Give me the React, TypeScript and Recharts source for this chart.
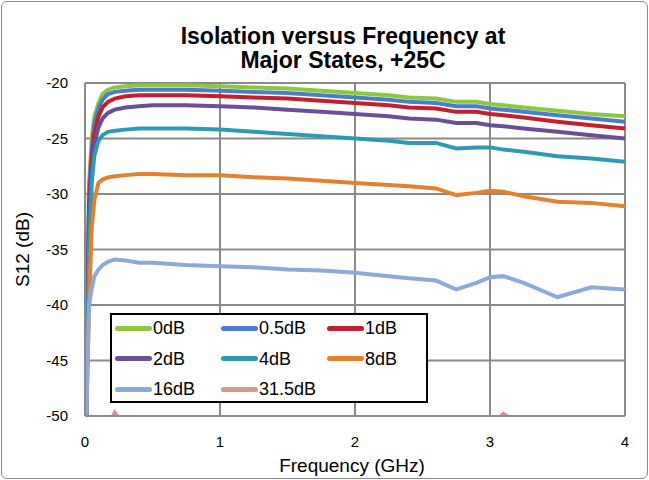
import { CartesianGrid, Line, LineChart, XAxis, YAxis } from 'recharts'

const FONT = '"Liberation Sans", Arial, sans-serif'
const GRID = '#8a8a8a'

// frequency points (GHz)
const freqGHz = [
  0.01, 0.03, 0.05, 0.07, 0.1, 0.13, 0.17, 0.22, 0.3, 0.4, 0.5, 0.75, 1.0, 1.25,
  1.5, 1.75, 2.0, 2.25, 2.4, 2.6, 2.75, 2.9, 3.0, 3.1, 3.25, 3.5, 3.75, 4.0,
]

// S12 (dB) per attenuation state
const s0dB = [
  -50, -29, -25, -23, -21.8, -21, -20.6, -20.4, -20.3, -20.2, -20.2, -20.2, -20.3, -20.4,
  -20.5, -20.7, -20.9, -21.1, -21.3, -21.4, -21.7, -21.7, -21.9, -22.0, -22.2, -22.5, -22.8, -23.0,
]
const s05dB = [
  -50, -30, -26, -23.6, -22.3, -21.5, -21.0, -20.8, -20.7, -20.6, -20.6, -20.6, -20.7, -20.8,
  -20.9, -21.1, -21.3, -21.5, -21.7, -21.8, -22.1, -22.1, -22.3, -22.4, -22.6, -22.9, -23.2, -23.5,
]
const s1dB = [
  -50, -31, -27, -24.5, -23, -22.2, -21.7, -21.4, -21.2, -21.1, -21.1, -21.1, -21.2, -21.3,
  -21.4, -21.6, -21.8, -22.0, -22.2, -22.3, -22.6, -22.6, -22.8, -22.9, -23.1, -23.5, -23.8, -24.1,
]
const s2dB = [
  -50, -32, -28, -25.5, -24, -23.2, -22.7, -22.4, -22.2, -22.1, -22.0, -22.0, -22.1, -22.2,
  -22.4, -22.6, -22.8, -23.0, -23.2, -23.3, -23.6, -23.6, -23.8, -23.9, -24.1, -24.4, -24.7, -25.0,
]
const s4dB = [
  -50, -35, -29, -26.5, -25.2, -24.7, -24.4, -24.3, -24.2, -24.1, -24.1, -24.1, -24.2, -24.4,
  -24.6, -24.8, -25.0, -25.2, -25.4, -25.4, -25.9, -25.8, -25.8, -26.0, -26.2, -26.6, -26.8, -27.1,
]
const s8dB = [
  -50, -40, -33, -30.5, -29.0, -28.7, -28.5, -28.4, -28.3, -28.2, -28.2, -28.3, -28.3, -28.5,
  -28.6, -28.8, -29.0, -29.2, -29.3, -29.5, -30.1, -29.9, -29.7, -29.8, -30.2, -30.7, -30.8, -31.1,
]
const s16dB = [
  -50, -40, -38.5, -37.4, -36.8, -36.4, -36.1, -35.9, -36.0, -36.2, -36.2, -36.4, -36.5, -36.6,
  -36.8, -36.9, -37.1, -37.4, -37.6, -37.8, -38.6, -38.0, -37.5, -37.4, -38.0, -39.3, -38.4, -38.6,
]
const s315dB = [
  -51, -51, -51, -51, -51, -51, -51, -49.7, -51, -51, -51, -51, -51, -51,
  -51, -51, -51, -51, -51, -51, -51, -51, -51, -49.8, -51, -51, -51, -51,
]

const xTicks = [0, 1, 2, 3, 4]
const yTicks = [-50, -45, -40, -35, -30, -25, -20]

const series = [
  { name: '0dB', color: '#8dc63f', values: s0dB },
  { name: '0.5dB', color: '#4a7ec8', values: s05dB },
  { name: '1dB', color: '#c4202b', values: s1dB },
  { name: '2dB', color: '#6b4f96', values: s2dB },
  { name: '4dB', color: '#2f9bb3', values: s4dB },
  { name: '8dB', color: '#e3812f', values: s8dB },
  { name: '16dB', color: '#8ea9d6', values: s16dB },
  { name: '31.5dB', color: '#d99594', values: s315dB },
]

const data = freqGHz.map((f, i) => {
  const row: Record<string, number> = { f }
  series.forEach((s) => (row[s.name] = s.values[i]))
  return row
})

function XTitle(props: any) {
  const vb = props.viewBox
  return (
    <text x={vb.x + vb.width / 2 - 3} y={472} textAnchor="middle" fontSize={19} fontFamily={FONT} fill="#000">
      Frequency (GHz)
    </text>
  )
}

function YTitle(props: any) {
  const vb = props.viewBox
  const cx = 22
  const cy = vb.y + vb.height / 2
  return (
    <text x={cx} y={cy} transform={`rotate(-90 ${cx} ${cy})`} textAnchor="middle" dominantBaseline="central" fontSize={19} fontFamily={FONT} fill="#000">
      S12 (dB)
    </text>
  )
}

function LegendBox() {
  return (
    <div
      style={{
        position: 'absolute', left: 110, top: 313, width: 318, height: 90,
        border: '2px solid #000', boxSizing: 'border-box', background: '#fff',
        fontFamily: FONT, fontSize: 18,
      }}
    >
      {series.map((s, i) => (
        <div
          key={s.name}
          style={{
            position: 'absolute', left: 3 + (i % 3) * 106, top: 3 + Math.floor(i / 3) * 30.5,
            height: 20, display: 'flex', alignItems: 'center',
          }}
        >
          <span style={{ width: 37, height: 5, borderRadius: 3, background: s.color, display: 'inline-block' }} />
          <span style={{ marginLeft: 1, lineHeight: '20px' }}>{s.name}</span>
        </div>
      ))}
    </div>
  )
}

export default function App() {
  return (
    <div style={{ position: 'absolute', left: 0, top: 0, width: 649, height: 480, background: '#fff' }}>
      <div
        style={{
          position: 'absolute', left: 0, top: 24, width: 686, textAlign: 'center',
          fontFamily: FONT, fontWeight: 'bold', fontSize: 23, lineHeight: '24px', color: '#000',
        }}
      >
        Isolation versus Frequency at
        <br />
        Major States, +25C
      </div>
      <LineChart width={649} height={480} data={data} margin={{ top: 83, right: 24, bottom: 34, left: 25 }}>
        <CartesianGrid stroke={GRID} strokeWidth={2} />
        <XAxis
          dataKey="f"
          type="number"
          domain={[0, 4]}
          ticks={xTicks}
          height={30}
          tickSize={0}
          tickMargin={20}
          axisLine={{ stroke: GRID, strokeWidth: 2 }}
          tick={{ fontSize: 15, fill: '#000', fontFamily: FONT }}
          label={<XTitle />}
        />
        <YAxis
          type="number"
          domain={[-50, -20]}
          ticks={yTicks}
          allowDataOverflow
          width={60}
          tickSize={0}
          tickMargin={17}
          axisLine={{ stroke: GRID, strokeWidth: 2 }}
          tick={{ fontSize: 15, fill: '#000', fontFamily: FONT }}
          label={<YTitle />}
        />
        {series.map((s) => (
          <Line
            key={s.name}
            type="linear"
            dataKey={s.name}
            stroke={s.color}
            strokeWidth={4}
            dot={false}
            isAnimationActive={false}
          />
        ))}
      </LineChart>
      <LegendBox />
      <div
        style={{
          position: 'absolute', left: 1, top: 1, width: 647, height: 478, boxSizing: 'border-box',
          border: '1.5px solid #8a8a8a', borderRadius: 6, pointerEvents: 'none',
        }}
      />
    </div>
  )
}
